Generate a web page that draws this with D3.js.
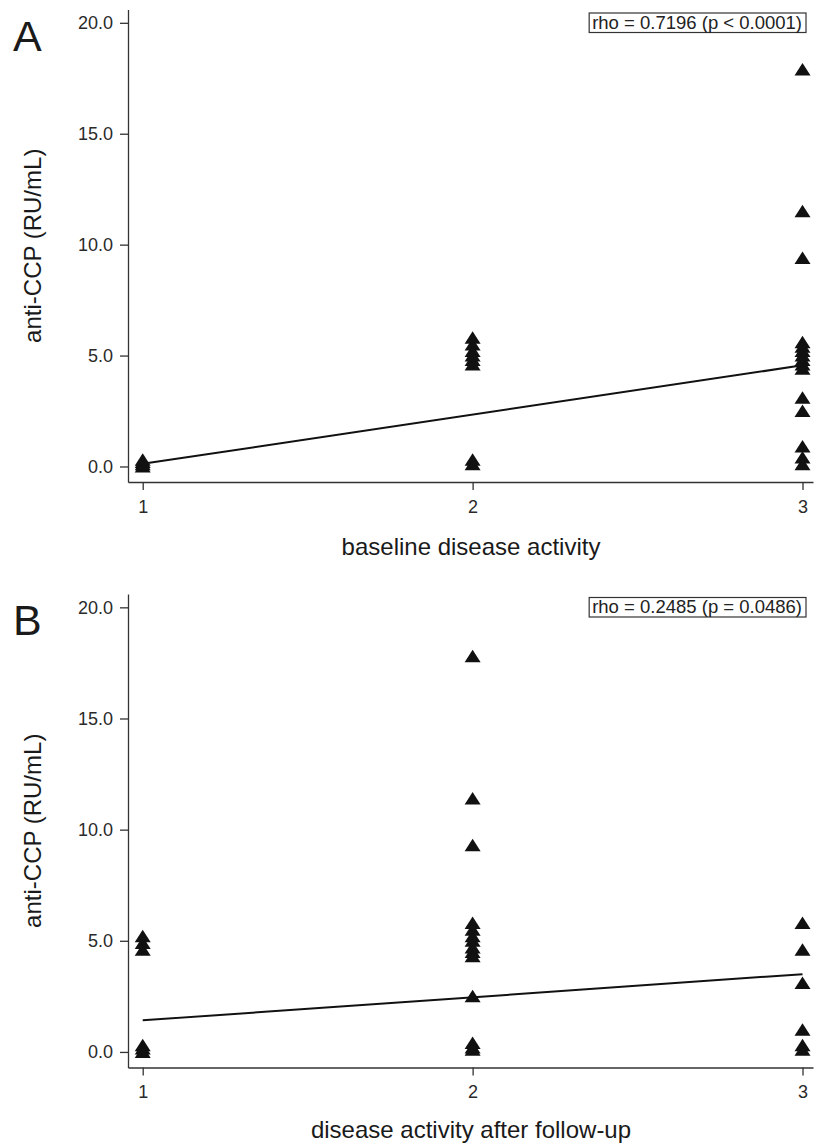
<!DOCTYPE html>
<html lang="en">
<head>
    <meta charset="utf-8">
    <title>anti-CCP vs disease activity</title>
    <script src="https://d3js.org/d3.v7.min.js"></script>
    <style>
        body { margin: 0; background: #fff; }
        svg { font-family: "Liberation Sans", Arial, Helvetica, sans-serif; }
        .axis path, .axis line { stroke: #333; stroke-width: 1.3px; }
        .axis text { fill: #2a2a2a; font-size: 18px; }
        .title { fill: #1a1a1a; font-size: 24px; }
        .letter { fill: #1a1a1a; font-size: 43px; }
        .fit { fill: none; stroke: #111; stroke-width: 2px; }
        .pt { fill: #111; }
        .rho rect { fill: none; stroke: #333; stroke-width: 1.2px; }
        .rho text { fill: #222; font-size: 18.5px; }
    </style>
</head>
<body>
<script>

    var w = 814;
    var h = 1144;

    // activity scores on the x axis
    var levels = [1, 2, 3];
    var yTicks = [0, 5, 10, 15, 20];

    // panel A: anti-CCP by baseline disease activity (one array per level)
    var baselineLevel1 = [0.0, 0.1, 0.2, 0.3];
    var baselineLevel2 = [0.1, 0.3, 4.6, 4.8, 5.0, 5.2, 5.5, 5.8];
    var baselineLevel3 = [17.9, 11.5, 9.4, 5.6, 5.4, 5.2, 5.0, 4.8, 4.6, 4.4, 3.1, 2.5, 0.9, 0.4, 0.1];
    var baselineFit = [0.12, 4.56];   // fitted line at level 1 and level 3

    // panel B: anti-CCP by disease activity after follow-up
    var followLevel1 = [5.2, 4.9, 4.6, 0.3, 0.15, 0.0];
    var followLevel2 = [17.8, 11.4, 9.3, 5.8, 5.5, 5.2, 5.0, 4.7, 4.5, 4.3, 2.5, 0.4, 0.2, 0.1];
    var followLevel3 = [5.8, 4.6, 3.1, 1.0, 0.3, 0.1];
    var followFit = [1.42, 3.5];

    var letters = ["A", "B"];
    var xTitles = ["baseline disease activity", "disease activity after follow-up"];
    var yTitle = "anti-CCP (RU/mL)";
    var rhoLabels = ["rho = 0.7196 (p < 0.0001)", "rho = 0.2485 (p = 0.0486)"];

    var panels = [
        {groups: [baselineLevel1, baselineLevel2, baselineLevel3], fit: baselineFit, top: 9.5, bottom: 482, titleGap: 73},
        {groups: [followLevel1, followLevel2, followLevel3], fit: followFit, top: 594, bottom: 1067.5, titleGap: 70}
    ];

    var svg = d3.select("body")
            .append("svg")
            .attr("width", w)
            .attr("height", h);

    var left = 128, right = 813;

    // x: level 1 sits a little inside the y axis
    var x = d3.scaleLinear().domain([0.9554, 3.0318]).range([left, right]);

    // flat filled triangle, a bit wider than tall
    var triangle = {
        draw: function (ctx) {
            ctx.moveTo(0, -6.5);
            ctx.lineTo(8, 6);
            ctx.lineTo(-8, 6);
            ctx.closePath();
        }
    };
    var sym = d3.symbol().type(triangle);

    panels.forEach(function (p, i) {

        var y = d3.scaleLinear().domain([-0.7, 20.6]).range([p.bottom, p.top]);
        var g = svg.append("g");

        g.append("g")
                .attr("class", "axis")
                .attr("transform", "translate(" + left + ",0)")
                .call(d3.axisLeft(y).tickValues(yTicks).tickFormat(d3.format(".1f"))
                        .tickSize(8).tickSizeOuter(0).tickPadding(7));

        g.append("g")
                .attr("class", "axis")
                .attr("transform", "translate(0," + p.bottom + ")")
                .call(d3.axisBottom(x).tickValues(levels).tickFormat(d3.format("d"))
                        .tickSize(8).tickSizeOuter(0).tickPadding(10));

        // flatten groups into points
        var pts = [];
        p.groups.forEach(function (vals, k) {
            vals.forEach(function (v) { pts.push({x: levels[k], y: v}); });
        });

        g.selectAll("path.pt")
                .data(pts)
                .enter()
                .append("path")
                .attr("class", "pt")
                .attr("transform", function (d) { return "translate(" + x(d.x) + "," + y(d.y) + ")"; })
                .attr("d", sym);

        var line = d3.line()
                .x(function (d) { return x(d[0]); })
                .y(function (d) { return y(d[1]); });

        g.append("path")
                .attr("class", "fit")
                .attr("d", line([[levels[0], p.fit[0]], [levels[2], p.fit[1]]]));

        // correlation box
        var rho = g.append("g").attr("class", "rho");
        var rt = rho.append("text")
                .attr("x", 806 - 4)
                .attr("y", p.top + 19)
                .attr("text-anchor", "end")
                .text(rhoLabels[i]);
        var bb = rt.node().getBBox();
        rho.insert("rect", "text")
                .attr("x", bb.x - 3)
                .attr("y", p.top + 3.5)
                .attr("width", bb.width + 7)
                .attr("height", 19.5);

        g.append("text")
                .attr("class", "letter")
                .attr("x", 13)
                .attr("y", p.top + 41)
                .text(letters[i]);

        g.append("text")
                .attr("class", "title")
                .attr("text-anchor", "middle")
                .attr("transform", "translate(41," + (p.top + p.bottom) / 2 + ") rotate(-90)")
                .text(yTitle);

        g.append("text")
                .attr("class", "title")
                .attr("text-anchor", "middle")
                .attr("x", 471)
                .attr("y", p.bottom + p.titleGap)
                .text(xTitles[i]);
    });

</script>
</body>
</html>
